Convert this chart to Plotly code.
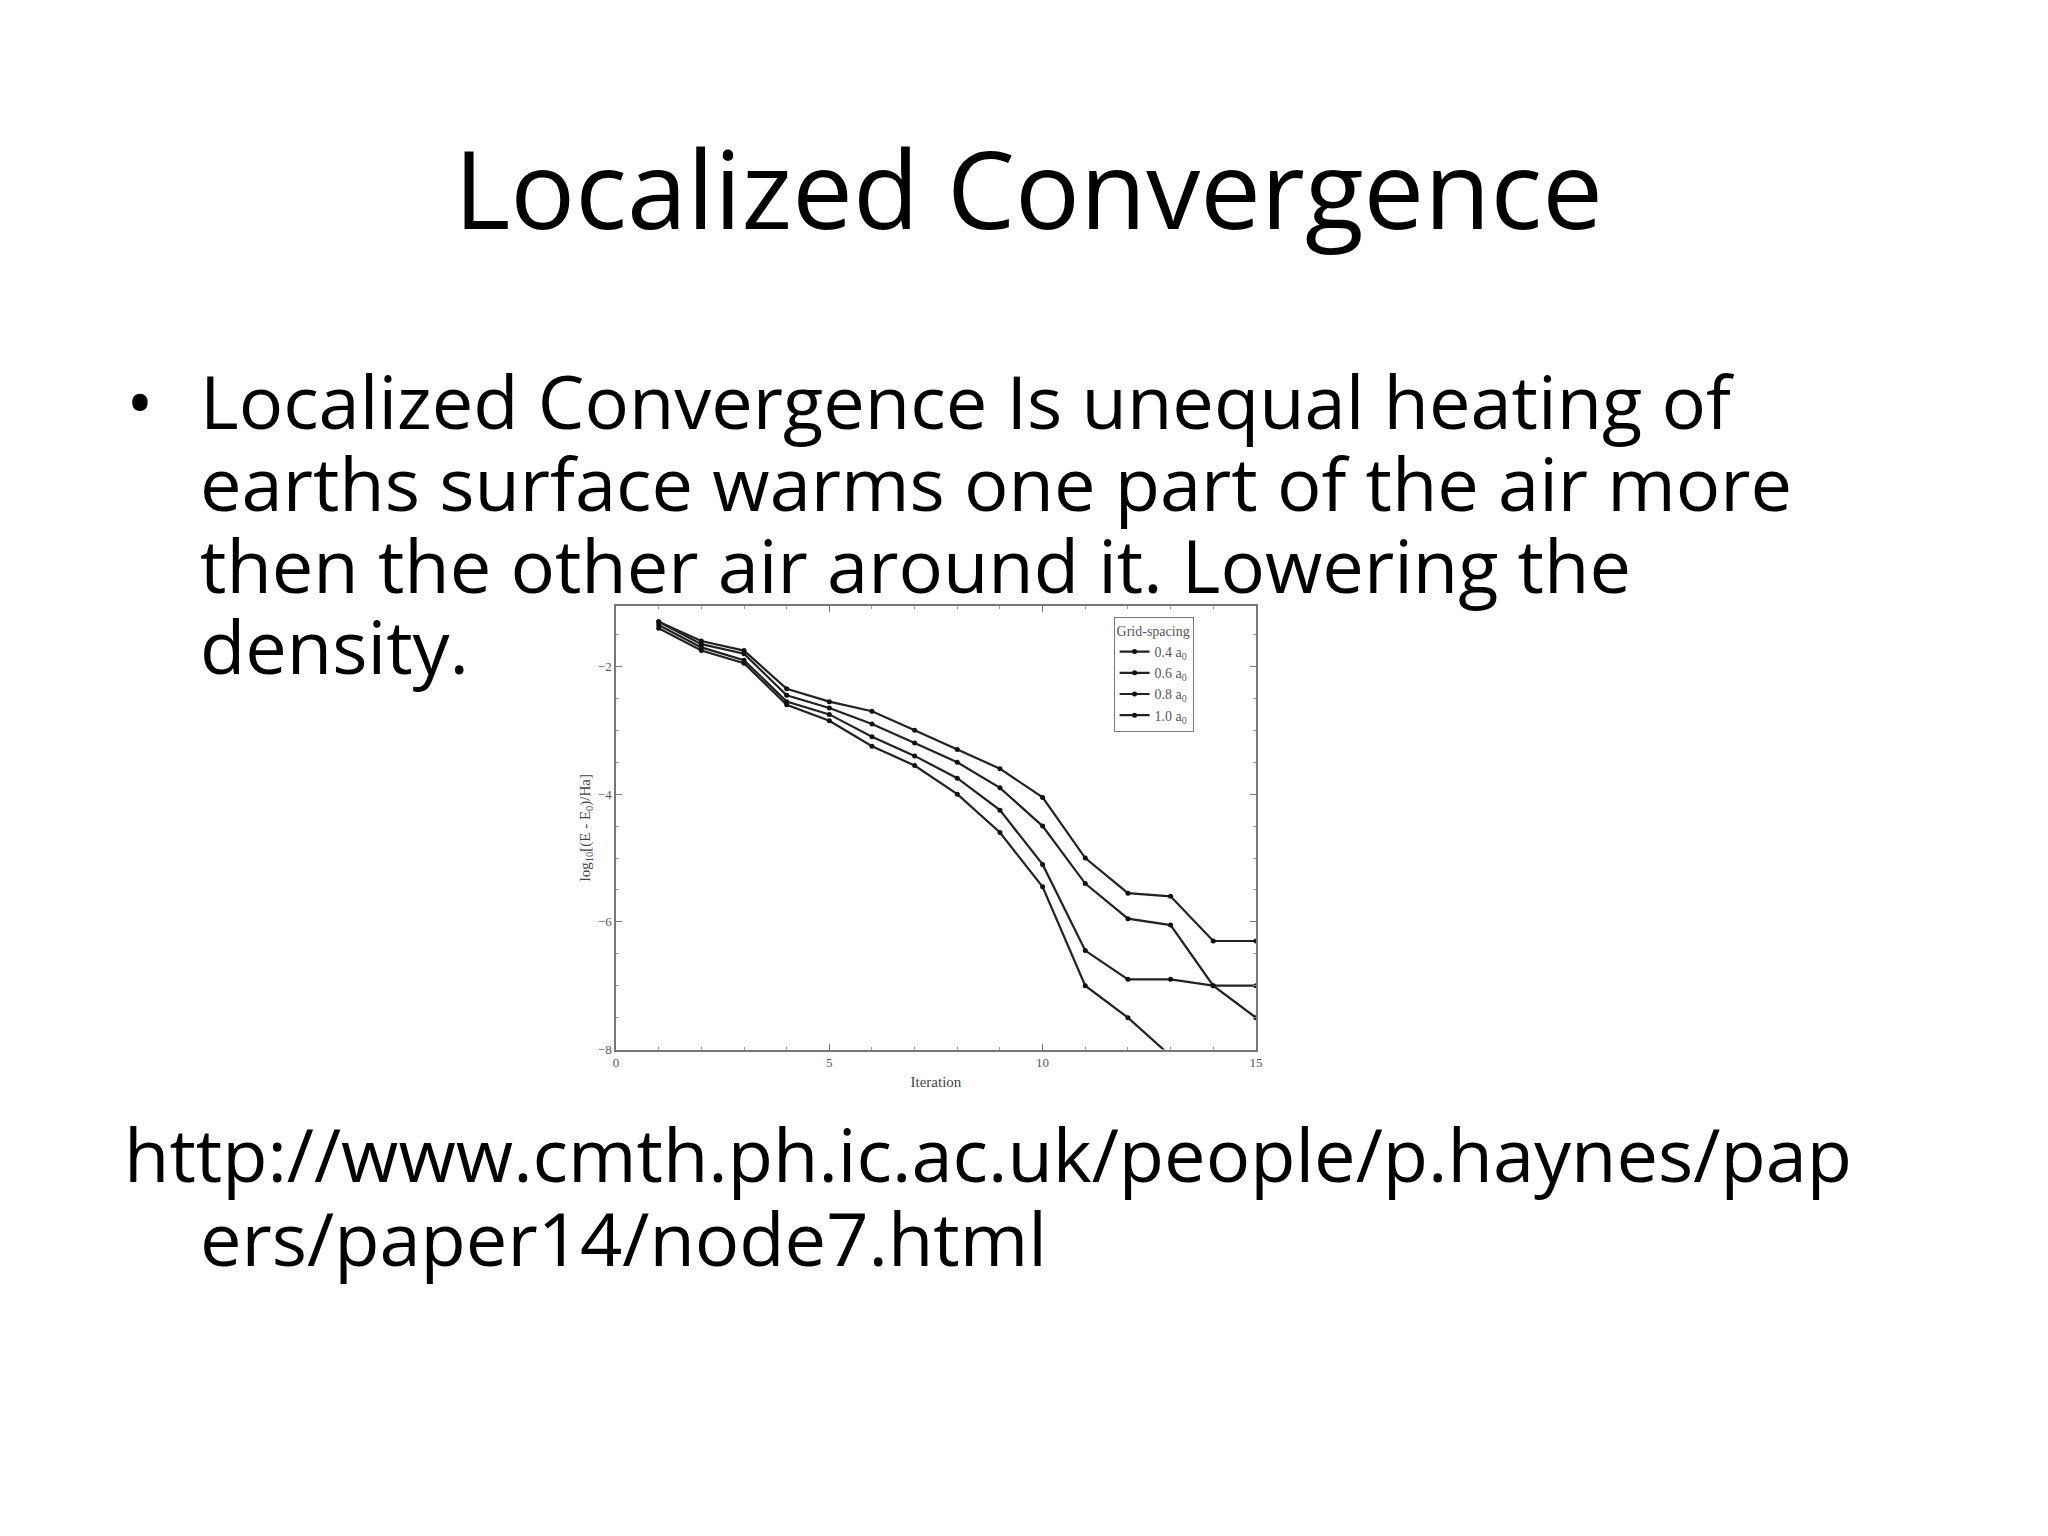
import plotly.graph_objects as go

iterations = list(range(1, 16))
labels = ["0.4 a<sub>0</sub>", "0.6 a<sub>0</sub>", "0.8 a<sub>0</sub>", "1.0 a<sub>0</sub>"]
s04 = [-1.4, -1.75, -1.95, -2.6, -2.85, -3.25, -3.55, -4.0, -4.6, -5.45, -7.0, -7.5, -8.1]
s06 = [-1.35, -1.7, -1.9, -2.55, -2.75, -3.1, -3.4, -3.75, -4.25, -5.1, -6.45, -6.9, -6.9, -7.0, -7.0]
s08 = [-1.3, -1.65, -1.8, -2.45, -2.65, -2.9, -3.2, -3.5, -3.9, -4.5, -5.4, -5.95, -6.05, -7.0, -7.5]
s10 = [-1.3, -1.6, -1.75, -2.35, -2.55, -2.7, -3.0, -3.3, -3.6, -4.05, -5.0, -5.55, -5.6, -6.3, -6.3]
series = [s04, s06, s08, s10]

fig = go.Figure()
for lab, ys in zip(labels, series):
    fig.add_trace(go.Scatter(x=iterations[:len(ys)], y=ys, name=lab, mode="lines+markers",
                             line=dict(color="#222", width=2.2), marker=dict(size=5, color="#111"),
                             cliponaxis=True))

serif = "Liberation Serif"
axis_common = dict(showline=True, linecolor="#777", linewidth=1.5, mirror="allticks",
                   ticks="inside", ticklen=6, tickcolor="#777", showgrid=False, zeroline=False,
                   tickfont=dict(family=serif, size=13, color="#555"),
                   minor=dict(ticks="inside", ticklen=3, tickcolor="#999"))
fig.update_layout(
    width=2048, height=1536, margin=dict(l=0, r=0, t=0, b=0),
    paper_bgcolor="white", plot_bgcolor="white",
    xaxis=dict(domain=[608/2048, 1251/2048], range=[0, 15], tickvals=[0, 5, 10, 15],
               title=dict(text="Iteration", font=dict(family=serif, size=15, color="#444"), standoff=8),
               **axis_common),
    yaxis=dict(domain=[1-1047/1536, 1-601/1536], range=[-8, -1.05], tickvals=[-2, -4, -6, -8],
               title=dict(text="log<sub>10</sub>[(E - E<sub>0</sub>)/Ha]", font=dict(family=serif, size=15, color="#444"), standoff=4),
               **axis_common),
    legend=dict(x=1108/2048, y=1-612/1536, xanchor="left", yanchor="top",
                title=dict(text="Grid-spacing", font=dict(family=serif, size=14, color="#555"), side="top"),
                font=dict(family=serif, size=14, color="#555"), bordercolor="#777", borderwidth=1,
                bgcolor="white", itemwidth=30, tracegroupgap=0),
    showlegend=True,
)

font = "Open Sans"
def txt(t, x, y, size, anchor="left"):
    fig.add_annotation(text=t, x=x/2048, y=1-y/1536, xref="paper", yref="paper", showarrow=False,
                       xanchor=anchor, yanchor="middle", font=dict(family=font, size=size, color="black"))

txt("Localized Convergence", 1022, 180, 108, "center")
body = ["Localized Convergence Is unequal heating of",
        "earths surface warms one part of the air more",
        "then the other air around it. Lowering the",
        "density."]
txt("•", 114, 395, 74)
for i, line in enumerate(body):
    txt(line, 188, 395 + i*82, 74)
txt("http://www.cmth.ph.ic.ac.uk/people/p.haynes/pap", 112, 1151, 74)
txt("ers/paper14/node7.html", 188, 1236, 74)

fig.write_html("out.html")
